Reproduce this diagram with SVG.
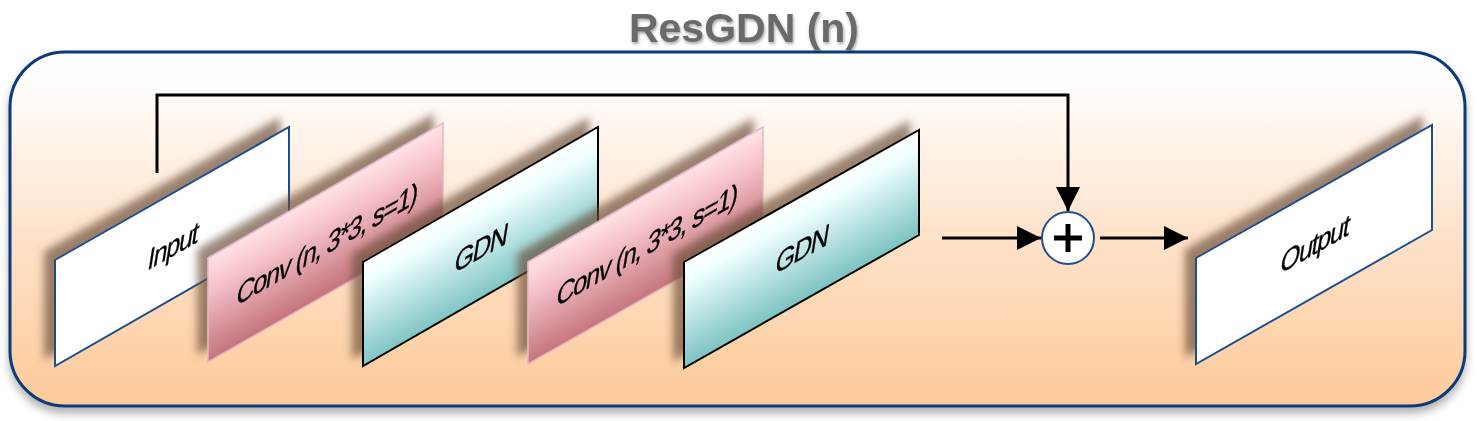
<svg xmlns="http://www.w3.org/2000/svg" width="1477" height="421" viewBox="0 0 1477 421">
<defs>
<linearGradient id="bg" x1="0" y1="0" x2="0" y2="1">
<stop offset="0" stop-color="#ffffff"/>
<stop offset="0.15" stop-color="#fffaf6"/>
<stop offset="0.5" stop-color="#fee3cc"/>
<stop offset="1" stop-color="#fdca99"/>
</linearGradient>
<linearGradient id="gdn" gradientUnits="userSpaceOnUse" x1="117" y1="-67" x2="162" y2="12">
<stop offset="0" stop-color="#ffffff"/>
<stop offset="0.2" stop-color="#f0ffff"/>
<stop offset="1" stop-color="#80c4c4"/>
</linearGradient>
<linearGradient id="conv" gradientUnits="userSpaceOnUse" x1="117" y1="-67" x2="162" y2="12">
<stop offset="0" stop-color="#ffe2e6"/>
<stop offset="0.3" stop-color="#f6c4ca"/>
<stop offset="1" stop-color="#c4737c"/>
</linearGradient>
<filter id="psh" x="-20%" y="-20%" width="140%" height="140%">
<feDropShadow dx="-10" dy="-8" stdDeviation="4.5" flood-color="#6a4e3a" flood-opacity="0.68"/>
</filter>
<filter id="bsh" x="-5%" y="-10%" width="110%" height="125%">
<feDropShadow dx="0" dy="6" stdDeviation="4" flood-color="#000" flood-opacity="0.3"/>
</filter>
<filter id="tsh" x="-10%" y="-30%" width="120%" height="160%">
<feDropShadow dx="1" dy="2" stdDeviation="1.5" flood-color="#000" flood-opacity="0.35"/>
</filter>
<marker id="ah" viewBox="0 0 24 24" refX="24" refY="12" markerWidth="24" markerHeight="24" markerUnits="userSpaceOnUse" orient="auto">
<path d="M0,0 L24,12 L0,24 Z" fill="#000"/>
</marker>
</defs>
<style>
.lbl{font-family:"Liberation Sans",Arial,sans-serif;font-size:29px;letter-spacing:-1.5px;fill:#000;stroke:#000;stroke-width:0.3;text-anchor:middle}
.io{fill:#fff;stroke:#1f4e8c;stroke-width:2}
.cv{fill:url(#conv);stroke:#e6b6c4;stroke-width:1.5}
.gd{fill:url(#gdn);stroke:#000;stroke-width:2}
.cn{fill:none;stroke:#000;stroke-width:3}
</style>
<g id="container">
<rect x="10" y="52" width="1455" height="354" rx="55" ry="55" fill="url(#bg)" stroke="#0b3a78" stroke-width="3" filter="url(#bsh)"/>
<text x="744" y="42" font-family="'Liberation Sans',Arial,sans-serif" font-weight="bold" font-size="41" fill="#6a6a6a" text-anchor="middle" filter="url(#tsh)">ResGDN (n)</text>
</g>
<g id="input" transform="translate(55,260)" filter="url(#psh)">
<polygon class="io" points="0,0 234,-133 234,-28 0,106"/>
<text class="lbl" transform="matrix(0.869,-0.495,-0.172,1.087,118,-14)" y="10">Input</text>
</g>
<g id="conv1" transform="translate(208,258)" filter="url(#psh)">
<polygon class="cv" points="0,0 235,-135 235,-30 0,104"/>
<text class="lbl" transform="matrix(0.869,-0.495,-0.172,1.087,119,-14)" y="10">Conv (n, 3*3, s=1)</text>
</g>
<g id="gdn1" transform="translate(363,262)" filter="url(#psh)">
<polygon class="gd" points="0,0 235,-135 235,-31 0,104"/>
<text class="lbl" transform="matrix(0.869,-0.495,-0.172,1.087,118,-14)" y="10">GDN</text>
</g>
<g id="conv2" transform="translate(528,262)" filter="url(#psh)">
<polygon class="cv" points="0,0 235,-135 235,-31 0,102"/>
<text class="lbl" transform="matrix(0.869,-0.495,-0.172,1.087,119,-17)" y="10">Conv (n, 3*3, s=1)</text>
</g>
<g id="gdn2" transform="translate(684,262)" filter="url(#psh)">
<polygon class="gd" points="0,0 235,-132 235,-27 0,106"/>
<text class="lbl" transform="matrix(0.869,-0.495,-0.172,1.087,118,-13)" y="10">GDN</text>
</g>
<g id="output" transform="translate(1196,258)" filter="url(#psh)">
<polygon class="io" points="0,0 236,-133 236,-28 0,106"/>
<text class="lbl" transform="matrix(0.869,-0.495,-0.172,1.087,119,-14)" y="10">Output</text>
</g>
<g id="add">
<circle cx="1068" cy="238" r="26" fill="#fff" stroke="#1f4e8c" stroke-width="2"/>
<path d="M1054,238 H1082 M1068,224 V252" stroke="#000" stroke-width="5" fill="none"/>
</g>
<g id="connectors">
<path class="cn" d="M157,173 V95 H1068 V211" marker-end="url(#ah)"/>
<path class="cn" d="M942,238 H1041" marker-end="url(#ah)"/>
<path class="cn" d="M1100,238 H1188" marker-end="url(#ah)"/>
</g>
</svg>
